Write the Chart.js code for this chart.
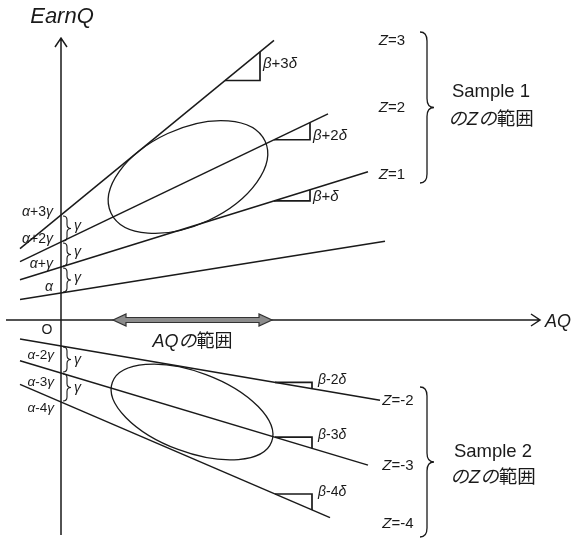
<!DOCTYPE html>
<html>
<head>
<meta charset="utf-8">
<script src="https://cdn.jsdelivr.net/npm/chart.js@4/dist/chart.umd.min.js"></script>
<style>
  html, body { margin: 0; padding: 0; background: #fff; }
  #wrap { width: 571px; height: 539px; }
</style>
</head>
<body>
<div id="wrap"><canvas id="chart" width="571" height="539"></canvas></div>
<script>
/* EarnQ vs AQ: regression lines per Z for two samples */

// Sample 1 (Z = 0..3): intercept alpha + gamma*Z, slope beta + delta*Z
const zSample1 = [0, 1, 2, 3];
const intercept1 = [2.7, 5.3, 7.8, 10.5];
const slope1 = [0.16, 0.31, 0.48, 0.82];
const lineEnd1 = [32.4, 30.7, 26.7, 21.3];
const interceptLabels1 = ['α', 'α+γ', 'α+2γ', 'α+3γ'];
const slopeLabels1 = ['', 'β+δ', 'β+2δ', 'β+3δ'];
const zLabels1 = ['', 'Z=1', 'Z=2', 'Z=3'];

// Sample 2 (Z = -2..-4)
const zSample2 = [-2, -3, -4];
const intercept2 = [-2.6, -5.3, -8.2];
const slope2 = [-0.17, -0.30, -0.43];
const lineEnd2 = [31.9, 30.7, 26.9];
const interceptLabels2 = ['α-2γ', 'α-3γ', 'α-4γ'];
const slopeLabels2 = ['β-2δ', 'β-3δ', 'β-4δ'];
const zLabels2 = ['Z=-2', 'Z=-3', 'Z=-4'];

const LINE_START = -4.1;
// AQ range shown on the horizontal axis
const aqRange = [5.2, 21.1];

const INK = '#1a1a1a';
const FONT = "'Liberation Sans', Arial, 'Noto Sans CJK JP', sans-serif";

function lineSet(a, b, x1) {
  return {
    data: [{ x: LINE_START, y: a + b * LINE_START }, { x: x1, y: a + b * x1 }],
    showLine: true, borderColor: INK, borderWidth: 1.5, pointRadius: 0
  };
}

// small right-angle triangle showing the slope
function slopeMark(a, b, x0, x1) {
  return {
    data: [{ x: x0, y: a + b * x0 }, { x: x1, y: a + b * x0 }, { x: x1, y: a + b * x1 }],
    showLine: true, borderColor: INK, borderWidth: 1.7, pointRadius: 0
  };
}

const datasets = [];
zSample1.forEach((z, i) => datasets.push(lineSet(intercept1[i], slope1[i], lineEnd1[i])));
zSample2.forEach((z, i) => datasets.push(lineSet(intercept2[i], slope2[i], lineEnd2[i])));
datasets.push(slopeMark(intercept1[3], slope1[3], 16.4, 19.9));
datasets.push(slopeMark(intercept1[2], slope1[2], 21.3, 24.9));
datasets.push(slopeMark(intercept1[1], slope1[1], 21.3, 24.9));
zSample2.forEach((z, i) => datasets.push(slopeMark(intercept2[i], slope2[i], 21.4, 25.1)));

const ITALIC = /[αβγδZのAQ]/;
function drawText(ctx, str, x, y, size, align, allItalic) {
  const parts = [];
  for (const ch of str) {
    const it = allItalic || ITALIC.test(ch);
    const last = parts[parts.length - 1];
    if (last && last.it === it) last.t += ch; else parts.push({ t: ch, it });
  }
  const font = it => `${it ? 'italic ' : ''}${size}px ${FONT}`;
  let w = 0;
  parts.forEach(p => { ctx.font = font(p.it); p.w = ctx.measureText(p.t).width; w += p.w; });
  let cx = align === 'center' ? x - w / 2 : align === 'right' ? x - w : x;
  ctx.textAlign = 'left';
  ctx.textBaseline = 'middle';
  parts.forEach(p => { ctx.font = font(p.it); ctx.fillText(p.t, cx, y); cx += p.w; });
}

// curly brace opening to the right
function brace(ctx, x, y0, y1, w, r) {
  const m = (y0 + y1) / 2, h = x + w / 2;
  ctx.beginPath();
  ctx.moveTo(x, y0);
  ctx.quadraticCurveTo(h, y0, h, y0 + r);
  ctx.lineTo(h, m - r);
  ctx.quadraticCurveTo(h, m, x + w, m);
  ctx.quadraticCurveTo(h, m, h, m + r);
  ctx.lineTo(h, y1 - r);
  ctx.quadraticCurveTo(h, y1, x, y1);
  ctx.stroke();
}

const diagram = {
  id: 'diagram',
  beforeDatasetsDraw(chart) {
    const { ctx, scales: { x, y } } = chart;
    const ox = x.getPixelForValue(0), oy = y.getPixelForValue(0);
    ctx.save();
    ctx.strokeStyle = INK;
    ctx.lineWidth = 1.5;
    ctx.beginPath();
    ctx.moveTo(ox, 535); ctx.lineTo(ox, 38);
    ctx.moveTo(ox - 6, 47); ctx.lineTo(ox, 38); ctx.lineTo(ox + 6, 47);
    ctx.moveTo(6, oy); ctx.lineTo(540, oy);
    ctx.moveTo(531, oy - 6); ctx.lineTo(540, oy); ctx.lineTo(531, oy + 6);
    ctx.stroke();
    ctx.restore();
  },
  afterDatasetsDraw(chart) {
    const { ctx, scales: { x, y } } = chart;
    const ox = x.getPixelForValue(0), oy = y.getPixelForValue(0);
    const unit = x.getPixelForValue(1) - ox;
    ctx.save();
    ctx.strokeStyle = INK;
    ctx.fillStyle = INK;

    // point clouds of the two samples
    ctx.lineWidth = 1.3;
    ctx.beginPath();
    ctx.ellipse(x.getPixelForValue(12.7), y.getPixelForValue(14.3), 8.5 * unit, 4.8 * unit, -25 * Math.PI / 180, 0, Math.PI * 2);
    ctx.stroke();
    ctx.beginPath();
    ctx.ellipse(x.getPixelForValue(13.1), y.getPixelForValue(-9.2), 8.5 * unit, 4.0 * unit, 20.5 * Math.PI / 180, 0, Math.PI * 2);
    ctx.stroke();

    // AQ range double arrow
    const ax0 = x.getPixelForValue(aqRange[0]), ax1 = x.getPixelForValue(aqRange[1]);
    ctx.beginPath();
    ctx.moveTo(ax0, oy);
    ctx.lineTo(ax0 + 13, oy - 6); ctx.lineTo(ax0 + 13, oy - 2.5);
    ctx.lineTo(ax1 - 13, oy - 2.5); ctx.lineTo(ax1 - 13, oy - 6);
    ctx.lineTo(ax1, oy);
    ctx.lineTo(ax1 - 13, oy + 6); ctx.lineTo(ax1 - 13, oy + 2.5);
    ctx.lineTo(ax0 + 13, oy + 2.5); ctx.lineTo(ax0 + 13, oy + 6);
    ctx.closePath();
    ctx.fillStyle = '#8c8c8c';
    ctx.fill();
    ctx.lineWidth = 1.2;
    ctx.strokeStyle = '#333';
    ctx.stroke();
    ctx.fillStyle = INK;
    ctx.strokeStyle = INK;

    // gamma steps between intercepts
    ctx.lineWidth = 1.1;
    for (let i = 0; i < 3; i++) {
      const p0 = y.getPixelForValue(intercept1[i + 1]), p1 = y.getPixelForValue(intercept1[i]);
      brace(ctx, ox + 2, p0 + 1, p1 - 1, 8, 4);
      drawText(ctx, 'γ', ox + 13, (p0 + p1) / 2 - 2, 14, 'left');
    }
    for (let i = 0; i < 2; i++) {
      const p0 = y.getPixelForValue(intercept2[i]), p1 = y.getPixelForValue(intercept2[i + 1]);
      brace(ctx, ox + 2, p0 + 1, p1 - 1, 8, 4);
      drawText(ctx, 'γ', ox + 13, (p0 + p1) / 2 + 1, 14, 'left');
    }

    // intercept labels
    interceptLabels1.forEach((t, i) => {
      const py = y.getPixelForValue(intercept1[i]);
      drawText(ctx, t, ox - 8, py - (i === 0 ? 6 : 3), 14, 'right');
    });
    interceptLabels2.forEach((t, i) => {
      const py = y.getPixelForValue(intercept2[i]);
      drawText(ctx, t, ox - 7, py + (i === 2 ? 6 : 9), 13.5, 'right');
    });

    // slope labels next to the triangles
    drawText(ctx, slopeLabels1[3], x.getPixelForValue(19.9) + 3, y.getPixelForValue(intercept1[3] + slope1[3] * 18.4), 15, 'left');
    [1, 2].forEach(i => {
      drawText(ctx, slopeLabels1[i], x.getPixelForValue(24.9) + 3, y.getPixelForValue(intercept1[i] + slope1[i] * 21.3) - 4, 15, 'left');
    });
    slopeLabels2.forEach((t, i) => {
      drawText(ctx, t, x.getPixelForValue(25.1) + 6, y.getPixelForValue(intercept2[i] + slope2[i] * 21.4) - 2, 14, 'left');
    });

    // Z labels
    [[zLabels1[3], 41], [zLabels1[2], 108], [zLabels1[1], 175]].forEach(([t, py]) => drawText(ctx, t, 392, py, 15, 'center'));
    [[zLabels2[0], 401], [zLabels2[1], 466], [zLabels2[2], 524]].forEach(([t, py]) => drawText(ctx, t, 398, py, 15, 'center'));

    // sample braces
    ctx.lineWidth = 1.3;
    brace(ctx, 420, 32, 183, 14, 9);
    brace(ctx, 420, 387, 537, 14, 9);
    drawText(ctx, 'Sample 1', 491, 92, 18.5, 'center');
    drawText(ctx, 'のZの範囲', 491, 120, 18.5, 'center');
    drawText(ctx, 'Sample 2', 493, 452, 18.5, 'center');
    drawText(ctx, 'のZの範囲', 493, 478, 18.5, 'center');

    // axis titles
    drawText(ctx, 'EarnQ', 62, 17, 22, 'center', true);
    drawText(ctx, 'AQ', 545, 322, 18, 'left', true);
    drawText(ctx, 'O', ox - 14, oy + 10, 14, 'center');
    drawText(ctx, 'AQの範囲', (ax0 + ax1) / 2, 342, 18, 'center');
    ctx.restore();
  }
};

new Chart(document.getElementById('chart'), {
  type: 'scatter',
  data: { datasets },
  options: {
    responsive: false,
    animation: false,
    events: [],
    layout: { padding: 0 },
    plugins: { legend: { display: false }, tooltip: { enabled: false } },
    scales: {
      x: { type: 'linear', min: -6.1, max: 51.0, display: false },
      y: { type: 'linear', min: -21.9, max: 32.0, display: false }
    }
  },
  plugins: [diagram]
});
</script>
</body>
</html>
